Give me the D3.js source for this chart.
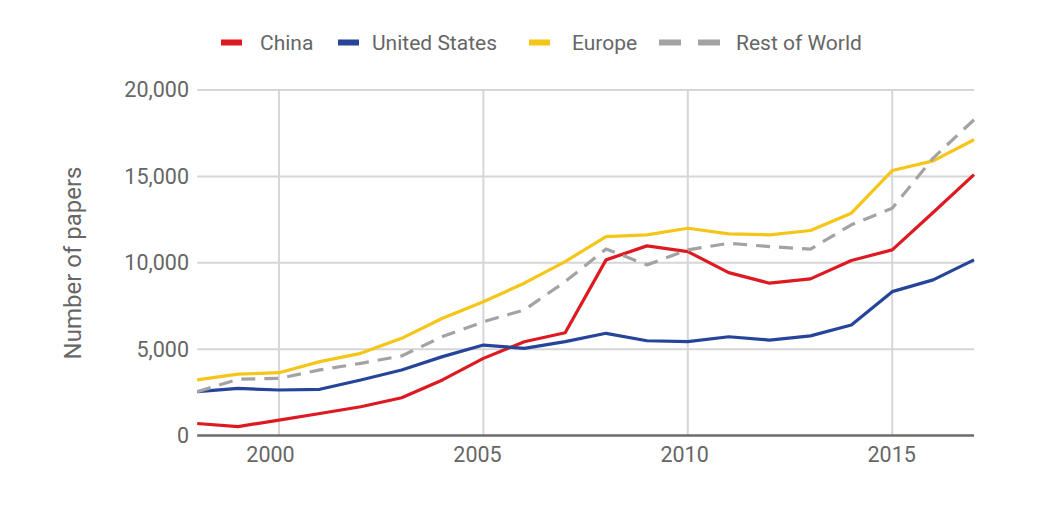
<!DOCTYPE html>
<html>
<head>
<meta charset="utf-8">
<script src="https://cdn.jsdelivr.net/npm/d3@7"></script>
<style>
  html, body { margin: 0; padding: 0; background: #fff; }
  svg { display: block; font-family: Roboto, "Noto Sans", sans-serif; }
</style>
</head>
<body>
<svg id="chart" width="1045" height="507"></svg>
<script>
const years = [1998,1999,2000,2001,2002,2003,2004,2005,2006,2007,2008,2009,2010,2011,2012,2013,2014,2015,2016,2017];
const china = [700,520,900,1280,1670,2190,3220,4470,5430,5950,10170,10980,10650,9430,8820,9070,10130,10750,12910,15100];
const unitedStates = [2540,2730,2640,2680,3220,3800,4570,5240,5050,5440,5920,5490,5440,5720,5530,5770,6400,8330,9010,10170];
const europe = [3220,3560,3640,4280,4760,5630,6790,7750,8820,10070,11520,11620,12000,11670,11620,11870,12870,15340,15900,17120];
const restOfWorld = [2540,3260,3310,3800,4180,4610,5730,6590,7270,8910,10800,9880,10750,11130,10940,10790,12200,13160,16060,18280];
const seriesNames = ["China","United States","Europe","Rest of World"];
const seriesColors = ["#dd1a22","#26449a","#f5c518","#a3a3a3"];
const yTicks = [0,5000,10000,15000,20000];
const xTicks = [2000,2005,2010,2015];
const yTitle = "Number of papers";

const seriesData = [china, unitedStates, europe, restOfWorld];

const svg = d3.select("#chart");
const x = d3.scaleLinear().domain([1998, 2017]).range([197.2, 974]);
const y = d3.scaleLinear().domain([0, 20000]).range([435.6, 90]);
const textColor = "#666";
const gridColor = "#d6d6d6";

// horizontal gridlines
svg.append("g").selectAll("line").data(yTicks.filter(d => d > 0)).join("line")
  .attr("x1", x.range()[0]).attr("x2", x.range()[1])
  .attr("y1", d => y(d)).attr("y2", d => y(d))
  .attr("stroke", gridColor).attr("stroke-width", 2);

// vertical gridlines
svg.append("g").selectAll("line").data(xTicks).join("line")
  .attr("x1", d => x(d)).attr("x2", d => x(d))
  .attr("y1", y(20000)).attr("y2", y(0))
  .attr("stroke", gridColor).attr("stroke-width", 2);

// y axis labels
const yAxis = d3.axisLeft(y).tickValues(yTicks).tickFormat(d3.format(",")).tickSize(0).tickPadding(0);
const gy = svg.append("g").attr("transform", "translate(189,0)").call(yAxis);
gy.select(".domain").remove();
gy.selectAll("text").attr("fill", textColor).attr("font-size", 21.5).attr("font-family", "Roboto");

// x axis labels (slight leftward drift of labels as in the reference)
const xAxis = d3.axisBottom(x).tickValues(xTicks).tickFormat(d3.format("d")).tickSize(0).tickPadding(0);
const gx = svg.append("g").attr("transform", "translate(0,447)").call(xAxis);
gx.select(".domain").remove();
gx.selectAll("text").attr("fill", textColor).attr("font-size", 21.5).attr("font-family", "Roboto")
  .attr("dx", (d) => -9 + (d - 2000) * 0.53);

// lines
const line = d3.line().x((d, i) => x(years[i])).y(d => y(d));
seriesData.forEach((vals, k) => {
  svg.append("path").datum(vals)
    .attr("d", line)
    .attr("fill", "none")
    .attr("stroke", seriesColors[k])
    .attr("stroke-width", 3.2)
    .attr("stroke-linejoin", "round")
    .attr("stroke-dasharray", k === 3 ? "14,9" : null);
});

// baseline
svg.append("line")
  .attr("x1", x.range()[0]).attr("x2", x.range()[1])
  .attr("y1", y(0)).attr("y2", y(0))
  .attr("stroke", "#6b6b6b").attr("stroke-width", 2.5);

// y title
svg.append("text")
  .attr("transform", `translate(81,${263}) rotate(-90)`)
  .attr("text-anchor", "middle")
  .attr("fill", textColor)
  .attr("font-size", 24)
  .text(yTitle);

// legend
const legendX = [221, 338, 529, 659];
const legendTextX = [260, 372, 572, 736];
const lg = svg.append("g");
seriesNames.forEach((name, k) => {
  if (k === 3) {
    [0, 39].forEach(off => {
      lg.append("rect").attr("x", legendX[k] + off).attr("y", 39.5).attr("width", 22).attr("height", 6)
        .attr("fill", seriesColors[k]);
    });
  } else {
    lg.append("rect").attr("x", legendX[k]).attr("y", 39.5).attr("width", 21).attr("height", 6)
      .attr("fill", seriesColors[k]);
  }
  lg.append("text").attr("x", legendTextX[k]).attr("y", 42.5)
    .attr("dominant-baseline", "central")
    .attr("fill", textColor).attr("font-size", 21)
    .text(name);
});
</script>
</body>
</html>
